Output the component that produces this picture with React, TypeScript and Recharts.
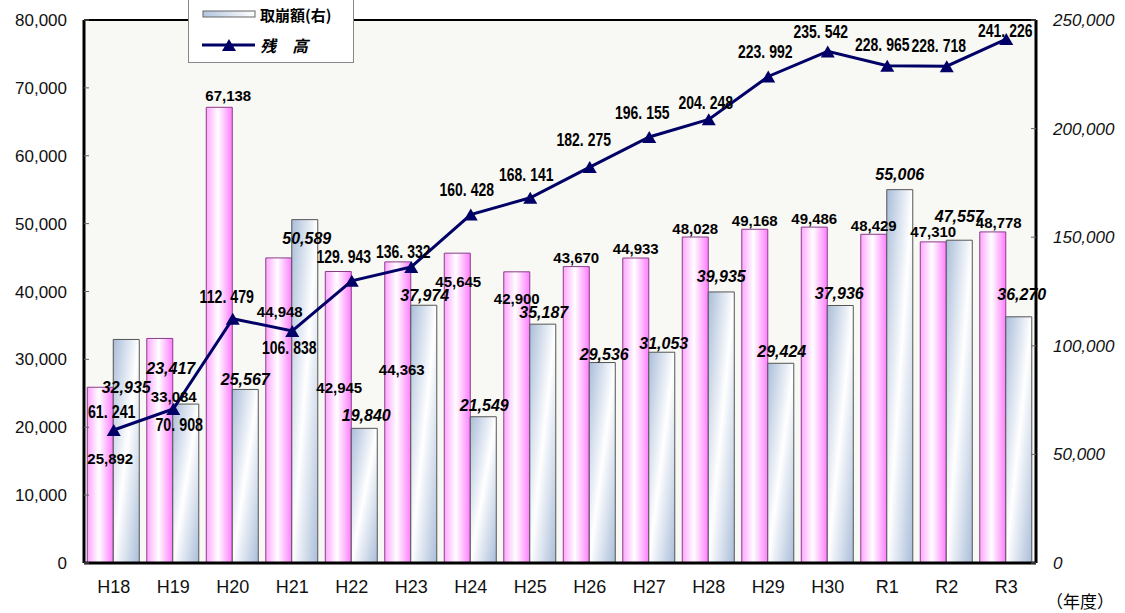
import { ComposedChart, Bar, Line, XAxis, YAxis, CartesianGrid, Legend, LabelList, ReferenceLine } from 'recharts';

const years = ['H18', 'H19', 'H20', 'H21', 'H22', 'H23', 'H24', 'H25', 'H26', 'H27', 'H28', 'H29', 'H30', 'R1', 'R2', 'R3'];
// pink bars (legend entry cut off in the source), left axis
const deposits = [25892, 33084, 67138, 44948, 42945, 44363, 45645, 42900, 43670, 44933, 48028, 49168, 49486, 48429, 47310, 48778];
// 取崩額, left axis
const withdrawals = [32935, 23417, 25567, 50589, 19840, 37974, 21549, 35187, 29536, 31053, 39935, 29424, 37936, 55006, 47557, 36270];
// 残高, right axis
const balance = [61241, 70908, 112479, 106838, 129943, 136332, 160428, 168141, 182275, 196155, 204248, 223992, 235542, 228965, 228718, 241226];

const leftTicks = [0, 10000, 20000, 30000, 40000, 50000, 60000, 70000, 80000];
const rightTicks = [0, 50000, 100000, 150000, 200000, 250000];

// label nudges [dx, dy] from bar top / point, as placed in the original
const depositLabelShift = [[10, 71], [14, 58], [9, -12], [1, 54], [1, 116], [4, 108], [1, 28], [0, 27], [0, -9], [0, -10], [0, -9], [0, -9], [0, -9], [0, -9], [0, -10], [6, -9]];
const withdrawLabelShift = [[0, 48], [-15, -36], [0, -10], [2, 19], [2, -13], [1, -10], [1, -11], [1, -12], [2, -8], [2, -9], [0, -15], [1, -12], [-1, -12], [0, -15], [0, -24], [3, -22]];
const balanceLabelShift = [[-2, -18], [6, 16], [-6, -22], [-3, 17], [-8, -24], [-8, -15], [-4, -25], [-4, -23], [-6, -27], [-7, -24], [-3, -16], [-3, -24], [-7, -19], [-5, -21], [-8, -20], [-1, -8]];

const chartData = years.map((year, i) => ({
  year,
  deposit: deposits[i],
  withdrawal: withdrawals[i],
  balance: balance[i],
}));

const fmt = (v: number) => v.toLocaleString('en-US');
const fmtBalance = (v: number) => `${Math.floor(v / 1000)}. ${String(v % 1000).padStart(3, '0')}`;

const SANS = "'Liberation Sans', Arial, sans-serif";
const JP = "'Noto Sans CJK JP', sans-serif";

const barLabel = (shifts: number[][], italic: boolean) => (props: any) => {
  const vb = props.viewBox || props;
  const i = props.index ?? 0;
  const [dx, dy] = shifts[i] || [0, -10];
  return (
    <text
      x={vb.x + vb.width / 2 + dx}
      y={vb.y + dy}
      textAnchor="middle"
      dominantBaseline="central"
      fontFamily={SANS}
      fontWeight="bold"
      fontStyle={italic ? 'italic' : 'normal'}
      fontSize={italic ? 16 : 15}
      fill="#000"
    >
      {fmt(props.value)}
    </text>
  );
};

// the original uses a tall narrow face for these, so squeeze the text
const lineLabel = (props: any) => {
  const vb = props.viewBox || props;
  const i = props.index ?? 0;
  const [dx, dy] = balanceLabelShift[i] || [0, -20];
  const str = fmtBalance(props.value);
  return (
    <text
      x={vb.x + dx}
      y={vb.y + dy}
      textAnchor="middle"
      dominantBaseline="central"
      fontFamily={SANS}
      fontWeight="bold"
      fontSize={18}
      textLength={str.length * 6.8}
      lengthAdjust="spacingAndGlyphs"
      fill="#000"
    >
      {str}
    </text>
  );
};

const Triangle = (props: any) => {
  const { cx, cy, index } = props;
  if (cx == null || cy == null) return <g key={`t-${index}`} />;
  return <polygon key={`t-${index}`} points={`${cx},${cy - 6} ${cx - 7},${cy + 6} ${cx + 7},${cy + 6}`} fill="#000066" />;
};

const renderLegend = () => (
  <div
    style={{
      width: 166,
      height: 63,
      boxSizing: 'border-box',
      background: '#fff',
      border: '1px solid #888',
      borderTop: 'none',
    }}
  >
    <svg width={164} height={62}>
      <defs>
        <linearGradient id="legendBlue" x1="0" y1="0" x2="1" y2="0">
          <stop offset="0%" stopColor="#b3c5de" />
          <stop offset="100%" stopColor="#ffffff" />
        </linearGradient>
      </defs>
      <rect x={14} y={11} width={52} height={6} fill="url(#legendBlue)" stroke="#666" strokeWidth={1} />
      <text x={71} y={14} dominantBaseline="central" fontFamily={JP} fontWeight="bold" fontSize={15} fill="#000">
        取崩額(右)
      </text>
      <line x1={13} y1={45} x2={66} y2={45} stroke="#000066" strokeWidth={3} />
      <polygon points="40,39 33,51 47,51" fill="#000066" />
      <text x={71} y={45} dominantBaseline="central" fontFamily={JP} fontWeight="bold" fontStyle="italic" fontSize={16} fill="#000">
        残　高
      </text>
    </svg>
  </div>
);

const yearUnit = (props: any) => {
  const vb = props.viewBox;
  return (
    <text x={vb.x + vb.width + 44} y={vb.y + 37} textAnchor="middle" dominantBaseline="central" fontFamily={JP} fontSize={17} fill="#000">
      （年度）
    </text>
  );
};

export default function App() {
  return (
    <div style={{ position: 'absolute', left: 0, top: 0, width: 1125, height: 613, background: '#fff' }}>
      <ComposedChart
        width={1125}
        height={613}
        data={chartData}
        margin={{ top: 20, right: 0, bottom: 0, left: 0 }}
        barCategoryGap="5.5%"
        barGap={0}
      >
        <defs>
          <linearGradient id="pinkFill" x1="0" y1="0" x2="1" y2="0">
            <stop offset="0%" stopColor="#ffa6ff" />
            <stop offset="45%" stopColor="#ffffff" />
            <stop offset="100%" stopColor="#ff7dff" />
          </linearGradient>
          <linearGradient id="blueFill" x1="0" y1="0" x2="1" y2="1">
            <stop offset="0%" stopColor="#a9bdd9" />
            <stop offset="50%" stopColor="#ffffff" />
            <stop offset="100%" stopColor="#a9bdd9" />
          </linearGradient>
        </defs>
        <CartesianGrid yAxisId="left" horizontal={false} vertical={false} fill="#f8f8f4" />
        <XAxis
          dataKey="year"
          height={50}
          axisLine={{ stroke: '#000', strokeWidth: 3 }}
          tickLine={false}
          tickSize={8}
          tickMargin={9}
          tick={{ fontFamily: SANS, fontSize: 18, fill: '#111' }}
          label={yearUnit}
        />
        <YAxis
          yAxisId="left"
          width={84}
          domain={[0, 80000]}
          ticks={leftTicks}
          tickFormatter={fmt}
          axisLine={{ stroke: '#000', strokeWidth: 3 }}
          tickLine={{ stroke: '#666' }}
          tickSize={-5}
          tickMargin={22}
          tick={{ fontFamily: SANS, fontSize: 17, fill: '#111' }}
        />
        <YAxis
          yAxisId="right"
          orientation="right"
          width={89}
          domain={[0, 250000]}
          ticks={rightTicks}
          tickFormatter={fmt}
          axisLine={{ stroke: '#000', strokeWidth: 3 }}
          tickLine={{ stroke: '#666' }}
          tickSize={-5}
          tickMargin={22}
          tick={{ fontFamily: SANS, fontSize: 17, fontStyle: 'italic', fill: '#111' }}
        />
        <ReferenceLine yAxisId="left" y={80000} stroke="#000" strokeWidth={2} />
        <Bar yAxisId="left" dataKey="deposit" fill="url(#pinkFill)" stroke="#8a3c8a" strokeWidth={1} isAnimationActive={false}>
          <LabelList dataKey="deposit" content={barLabel(depositLabelShift, false)} />
        </Bar>
        <Bar yAxisId="left" dataKey="withdrawal" fill="url(#blueFill)" stroke="#555" strokeWidth={1} isAnimationActive={false}>
          <LabelList dataKey="withdrawal" content={barLabel(withdrawLabelShift, true)} />
        </Bar>
        <Line
          yAxisId="right"
          dataKey="balance"
          type="linear"
          stroke="#000066"
          strokeWidth={3}
          dot={Triangle}
          activeDot={false}
          isAnimationActive={false}
        >
          <LabelList dataKey="balance" content={lineLabel} />
        </Line>
        <Legend
          verticalAlign="middle"
          align="center"
          content={renderLegend}
          wrapperStyle={{ top: 0, left: 188, width: 166, height: 63 }}
        />
      </ComposedChart>
    </div>
  );
}
